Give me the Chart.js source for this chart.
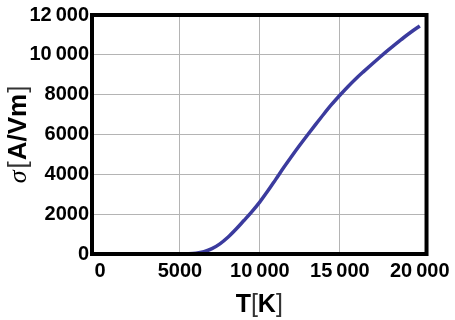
<!DOCTYPE html>
<html>
<head>
<meta charset="utf-8">
<script src="https://cdn.jsdelivr.net/npm/chart.js@4"></script>
<style>
  body { margin: 0; background: #fff; }
</style>
</head>
<body>
<canvas id="chart" width="455" height="320"></canvas>
<script>
// temperature T [K]
var temps = [0, 500, 1000, 1500, 2000, 2500, 3000, 3500, 4000, 4500, 5000,
    5500, 6000, 6500, 7000, 7500, 8000, 8500, 9000, 9500, 10000,
    10500, 11000, 11500, 12000, 12500, 13000, 13500, 14000, 14500, 15000,
    15500, 16000, 16500, 17000, 17500, 18000, 18500, 19000, 19500, 20000];
// conductivity sigma [A/Vm]
var sigma = [0, 0, 0, 0, 0, 0, 0, 0, 0, 0, 0,
    10, 40, 120, 270, 510, 840, 1240, 1680, 2130, 2620,
    3170, 3760, 4350, 4920, 5470, 6000, 6520, 7030, 7520, 7970,
    8400, 8800, 9170, 9530, 9880, 10220, 10550, 10870, 11170, 11450];
var xTicks = [0, 5000, 10000, 15000, 20000];
var yTicks = [0, 2000, 4000, 6000, 8000, 10000, 12000];

function fmt(v) {
    // thin space as thousands separator from 10 000 up
    if (v >= 10000) {
        var s = String(v);
        return s.slice(0, s.length - 3) + '\u2009' + s.slice(-3);
    }
    return String(v);
}

var tickFont = { family: "'Liberation Sans', Arial, sans-serif", size: 20, weight: 'bold' };

// frame + axis titles with mixed styles
var decoPlugin = {
    id: 'deco',
    afterDraw: function (chart) {
        var c = chart.ctx;
        var a = chart.chartArea;
        c.save();
        c.strokeStyle = '#000';
        c.lineWidth = 4;
        c.strokeRect(a.left, a.top, a.right - a.left, a.bottom - a.top);

        function drawParts(parts, cx, cy) {
            var total = 0;
            parts.forEach(function (p) { c.font = p.font; p.w = c.measureText(p.t).width; total += p.w + (p.gap || 0); });
            var x = cx - total / 2;
            parts.forEach(function (p) {
                c.font = p.font;
                c.fillStyle = p.color || '#000';
                c.fillText(p.t, x, cy);
                x += p.w + (p.gap || 0);
            });
        }
        c.textBaseline = 'alphabetic';
        c.textAlign = 'left';

        // x title: T[K]
        drawParts([
            { t: 'T', font: "bold 25px 'Liberation Sans', Arial" },
            { t: '[', font: "25px 'Liberation Sans', Arial", color: '#333' },
            { t: 'K', font: "bold 25px 'Liberation Sans', Arial" },
            { t: ']', font: "25px 'Liberation Sans', Arial", color: '#333' }
        ], (a.left + a.right) / 2, 312);

        // y title: sigma[A/Vm]
        c.translate(26, (a.top + a.bottom) / 2);
        c.rotate(-Math.PI / 2);
        drawParts([
            { t: '\u03c3', font: "italic 26px 'Liberation Serif', serif", gap: 2 },
            { t: '[', font: "26px 'Liberation Sans', Arial", color: '#333', gap: 1 },
            { t: 'A/Vm', font: "bold 26px 'Liberation Sans', Arial", gap: 1 },
            { t: ']', font: "26px 'Liberation Sans', Arial", color: '#333' }
        ], 0, 0);
        c.restore();
    }
};

var ctx = document.getElementById('chart').getContext('2d');
var chart = new Chart(ctx, {
    type: 'line',
    data: {
        datasets: [{
            data: temps.map(function (t, i) { return { x: t, y: sigma[i] }; }),
            borderColor: '#3b3b9e',
            borderWidth: 3.5,
            pointRadius: 0,
            cubicInterpolationMode: 'monotone',
            fill: false
        }]
    },
    options: {
        responsive: false,
        animation: false,
        layout: { padding: { top: 13, right: 19, left: 0, bottom: 0 } },
        plugins: {
            legend: { display: false },
            tooltip: { enabled: false }
        },
        scales: {
            x: {
                type: 'linear',
                min: -500,
                max: 20420,
                afterBuildTicks: function (s) { s.ticks = xTicks.map(function (v) { return { value: v }; }); },
                afterFit: function (s) { s.height = 66; },
                border: { display: false },
                grid: {
                    drawTicks: false,
                    color: function (c) { var v = c.tick && c.tick.value; return (v === 0 || v === 20000) ? 'rgba(0,0,0,0)' : '#b4b4b4'; }
                },
                ticks: {
                    font: tickFont, color: '#000', padding: 5, maxRotation: 0, autoSkip: false,
                    callback: function (v) { return fmt(v); }
                }
            },
            y: {
                min: 0,
                max: 12000,
                afterBuildTicks: function (s) { s.ticks = yTicks.map(function (v) { return { value: v }; }); },
                afterFit: function (s) { s.width = 92; },
                border: { display: false },
                grid: {
                    drawTicks: false,
                    color: function (c) { var v = c.tick && c.tick.value; return (v === 0 || v === 12000) ? 'rgba(0,0,0,0)' : '#b4b4b4'; }
                },
                ticks: {
                    font: tickFont, color: '#000', padding: 3,
                    callback: function (v) { return fmt(v); }
                }
            }
        }
    },
    plugins: [decoPlugin]
});
</script>
</body>
</html>
